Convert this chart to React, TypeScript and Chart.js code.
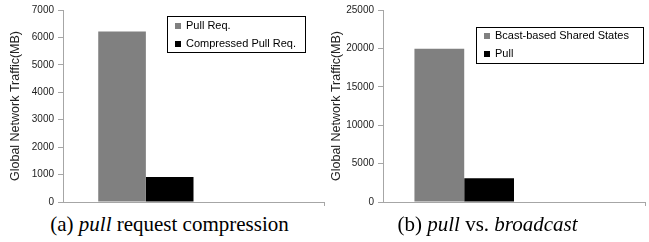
import React, { useEffect, useRef } from "react";
import { Chart, registerables } from "chart.js";

Chart.register(...registerables);

// ---- data ----
const categoriesA = [""];
const seriesNamesA = ["Pull Req.", "Compressed Pull Req.", "Series 3", "Series 4"];
const valuesA = [6220, 910, 20, 20];
const ticksA = [0, 1000, 2000, 3000, 4000, 5000, 6000, 7000];

const categoriesB = [""];
const seriesNamesB = ["Bcast-based Shared States", "Pull", "Series 3", "Series 4"];
const valuesB = [19950, 3080, 80, 80];
const ticksB = [0, 5000, 10000, 15000, 20000, 25000];

const legendShown = [true, true, false, false];
const seriesColors = ["#808080", "#000000", "#9BBB59", "#8064A2"];

const yTitle = "Global Network Traffic(MB)";

const AXIS = "#A6A6A6";
const TEXT = "#222222";
const SANS = "'Liberation Sans', Arial, sans-serif";

const boxLegend = {
  id: "boxLegend",
  afterDraw(chart: any, _args: any, opts: any) {
    if (!opts || opts.x === undefined) return;
    const ctx = chart.ctx;
    const { x, y, w, h, rowTop, rowGap } = opts;
    ctx.save();
    ctx.strokeStyle = "#000";
    ctx.lineWidth = 1;
    ctx.strokeRect(Math.round(x) + 0.5, Math.round(y) + 0.5, w, h);
    ctx.font = "11px " + SANS;
    ctx.textBaseline = "middle";
    ctx.textAlign = "left";
    let i = 0;
    chart.data.datasets.forEach((ds: any) => {
      if (!ds.inLegend) return;
      const cy = y + rowTop + i * rowGap;
      ctx.fillStyle = ds.backgroundColor;
      ctx.fillRect(x + 8, Math.round(cy - 3), 6, 6);
      ctx.fillStyle = "#000";
      ctx.fillText(ds.label, x + 19, cy + 0.5);
      i++;
    });
    ctx.restore();
  },
};

function makeConfig(
  categories: string[],
  names: string[],
  values: number[],
  ticks: number[],
  catPct: number,
  axisWidth: number,
  legend: any
): any {
  const datasets = names.map((n, i) => ({
    label: n,
    data: [values[i]],
    backgroundColor: seriesColors[i],
    borderWidth: 0,
    inLegend: legendShown[i],
  }));
  return {
    type: "bar",
    data: { labels: categories, datasets },
    plugins: [boxLegend],
    options: {
      animation: false,
      responsive: false,
      maintainAspectRatio: false,
      events: [],
      layout: { padding: { top: 0, bottom: 6, left: 0, right: 4 } },
      datasets: { bar: { categoryPercentage: catPct, barPercentage: 1 } },
      plugins: {
        legend: { display: false },
        tooltip: { enabled: false },
        boxLegend: legend,
      },
      scales: {
        x: {
          offset: true,
          afterFit: (s: any) => {
            s.height = 0;
          },
          ticks: { display: false },
          grid: {
            offset: true,
            drawOnChartArea: false,
            drawTicks: true,
            tickLength: 4,
            color: (c: any) => (c.index === 0 ? "rgba(0,0,0,0)" : AXIS),
          },
          border: { display: true, color: AXIS, width: 1 },
        },
        y: {
          min: ticks[0],
          max: ticks[ticks.length - 1],
          afterFit: (s: any) => {
            s.width = axisWidth;
          },
          afterBuildTicks: (s: any) => {
            s.ticks = ticks.map((v) => ({ value: v }));
          },
          ticks: {
            color: TEXT,
            font: { family: SANS, size: 10 },
            padding: 4,
            callback: (v: any) => String(v),
          },
          grid: {
            drawOnChartArea: false,
            drawTicks: true,
            tickLength: 5,
            color: AXIS,
          },
          border: { display: true, color: AXIS, width: 1 },
          title: {
            display: true,
            text: yTitle,
            color: TEXT,
            font: { family: SANS, size: 12.5, lineHeight: 1.2 },
            padding: { top: 8.5, bottom: 0 },
          },
        },
      },
    },
  };
}

function BarCanvas(props: { config: () => any; style: React.CSSProperties; w: number; h: number }) {
  const ref = useRef<HTMLCanvasElement | null>(null);
  useEffect(() => {
    if (!ref.current) return;
    const chart = new Chart(ref.current, props.config());
    return () => chart.destroy();
  }, []);
  return <canvas ref={ref} width={props.w} height={props.h} style={{ ...props.style, width: props.w, height: props.h }} />;
}

const captionStyle: React.CSSProperties = {
  position: "absolute",
  top: 214,
  fontFamily: "'Liberation Serif', 'Times New Roman', serif",
  fontSize: 21,
  lineHeight: "21px",
  color: "#000",
  textAlign: "center",
  whiteSpace: "nowrap",
};

export default function App() {
  return (
    <div style={{ position: "absolute", left: 0, top: 0, width: 649, height: 242, background: "#fff", overflow: "hidden" }}>
      <BarCanvas
        w={328}
        h={212}
        style={{ position: "absolute", left: 0, top: 0 }}
        config={() =>
          makeConfig(categoriesA, seriesNamesA, valuesA, ticksA, 0.73, 63, {
            x: 167,
            y: 16,
            w: 138,
            h: 36,
            rowTop: 9.5,
            rowGap: 18,
          })
        }
      />
      <BarCanvas
        w={328}
        h={212}
        style={{ position: "absolute", left: 321, top: 0 }}
        config={() =>
          makeConfig(categoriesB, seriesNamesB, valuesB, ticksB, 0.76, 62, {
            x: 155,
            y: 27,
            w: 167,
            h: 36,
            rowTop: 8.5,
            rowGap: 18,
          })
        }
      />
      <div style={{ ...captionStyle, left: 0, width: 339 }}>
        (a) <i>pull</i> request compression
      </div>
      <div style={{ ...captionStyle, left: 326, width: 323 }}>
        (b) <i>pull</i> vs. <i>broadcast</i>
      </div>
    </div>
  );
}
